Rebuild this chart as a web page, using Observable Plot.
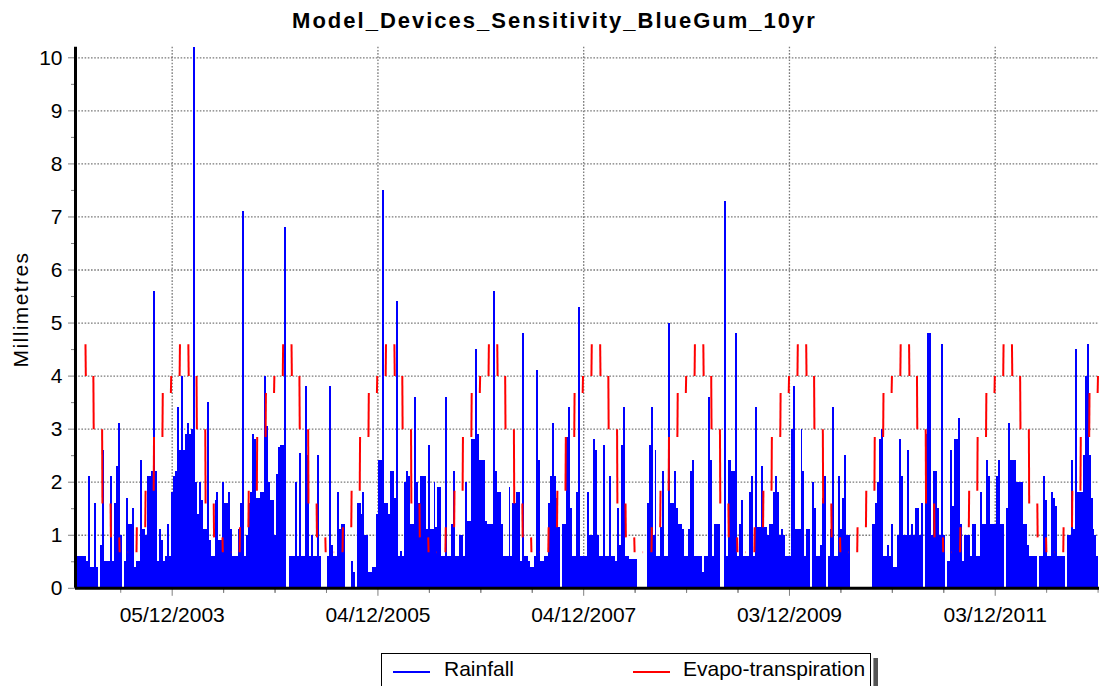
<!DOCTYPE html>
<html>
<head>
<meta charset="utf-8">
<script src="https://cdn.jsdelivr.net/npm/d3@7"></script>
<script src="https://cdn.jsdelivr.net/npm/@observablehq/plot@0.6"></script>
<style>
  html, body { margin: 0; padding: 0; width: 1099px; height: 686px; overflow: hidden; background: #fff; }
  body { position: relative; font-family: "Liberation Sans", Arial, sans-serif; color: #000; }
  #title { position: absolute; left: 0; top: 10px; width: 1109px; text-align: center; font-size: 22px; line-height: 22px; font-weight: bold; letter-spacing: 2px; z-index: 2; }
  #ylabel { position: absolute; left: -80.5px; top: 299px; width: 200px; text-align: center; font-size: 21px; line-height: 21px; letter-spacing: 1.4px; transform: rotate(-90deg); z-index: 2; }
  #chart { position: absolute; left: 0; top: 40px; z-index: 1; }
  #legend { position: absolute; left: 381px; top: 653px; width: 488px; height: 60px; border: 1px solid #000; background: #fff; z-index: 2; }
  #legshadow { position: absolute; left: 873px; top: 658px; width: 4px; height: 40px; background: #555; border-left: 1px solid #999; z-index: 2; }
  .lg-line { position: absolute; height: 2px; z-index: 3; }
  .lg-text { position: absolute; font-size: 21px; line-height: 21px; white-space: nowrap; z-index: 3; }
</style>
</head>
<body>
<div id="chart"></div>
<div id="title">Model_Devices_Sensitivity_BlueGum_10yr</div>
<div id="ylabel">Millimetres</div>
<div id="legend"></div>
<div id="legshadow"></div>
<div class="lg-line" style="left:393px; top:671px; width:37px; background:#0000ff;"></div>
<div class="lg-text" style="left:444px; top:658px;">Rainfall</div>
<div class="lg-line" style="left:633px; top:671px; width:37px; background:#ff0000;"></div>
<div class="lg-text" style="left:683px; top:658px;">Evapo-transpiration</div>
<script>
// ---- Data ----
// Rainfall: peak daily value (mm) within each 7-day period, starting 1 Jan 2003
const rainStart = "2003-01-01";
const rainfallWeekly = [
  0.6,0.6,0.6,0.6,0.6,0.5,2.1,0.4,0.4,1.6, 0.4,0,0.8,2.6,0.5,0.5,0.5,2.1,0.5,1.6,
  2.3,3.1,1.0,0,0.5,1.7,1.2,1.2,1.5,0.4, 0.5,0.5,2.4,1.1,1.1,1.0,2.1,2.1,2.2,5.6,
  2.2,0.5,1.1,0.9,0.5,0.6,1.2,0.6,1.8,2.1, 2.2,3.4,2.6,4.0,2.6,2.9,3.1,2.9,3.0,10.2,
  2.0,1.4,2.0,1.65,1.1,1.1,3.5,0.9,0.6,0.6, 1.65,1.8,0.9,0.9,2.0,1.6,1.6,1.8,1.1,0.6,
  0.6,0.6,1.1,1.6,7.1,0.6,1.0,1.6,1.8,2.9, 2.8,1.7,1.7,1.8,1.8,4.0,3.05,2.0,1.65,1.65,
  1.0,2.15,2.65,2.7,2.7,6.8,0,0,0.6,0.6, 0.6,2.0,0.6,2.55,0.6,0.6,3.8,2.5,0.6,1.0,
  0.6,0.6,2.5,0.6,0,0,0,0.6,3.8,0.8, 0.6,0.6,1.8,1.1,1.2,1.2,0,0,0,0.5,
  0.3,0,1.6,1.6,1.4,1.8,1.0,1.0,0.3,0.3, 0.4,0.4,1.4,2.4,2.4,7.5,1.6,1.6,1.4,2.2,
  2.2,1.7,5.4,0.6,0.7,0.6,2.0,2.2,2.1,1.2, 1.2,3.6,2.0,1.6,2.1,2.1,2.1,1.1,2.7,1.1,
  1.1,2.0,1.15,1.9,1.9,0.6,0.6,3.6,0.6,0.6, 1.2,2.2,0.6,0.6,1.0,1.0,0.6,2.0,1.25,1.25,
  2.8,2.8,4.5,2.9,2.4,2.4,2.4,1.25,1.2,1.2, 1.2,5.6,2.2,1.8,1.8,1.2,0.6,0.6,0.6,1.9,
  0.6,1.6,1.6,1.8,1.8,0.5,4.8,0.6,0.6,0.5, 0.4,0.4,0.6,4.1,2.4,0.5,0.5,0.6,0.6,1.6,
  2.1,3.1,2.1,1.7,1.15,0,1.2,1.2,2.85,3.4, 1.5,0.6,0.6,1.8,5.3,0.6,0.6,0.6,0.6,1.8,
  1.0,1.0,2.8,2.6,1.0,0.6,0.6,2.7,0.6,0.6, 2.1,0.6,0.6,0.5,1.5,0.8,2.7,3.4,0.6,0.6,
  0.55,0.55,0.55,0.55,0,0,0,0,0,1.6, 2.7,3.4,1.0,2.6,0.6,0.6,1.15,2.2,0.6,0.6,
  5.0,1.6,1.6,2.2,1.5,1.2,1.2,1.1,0.6,0.6, 1.1,2.2,2.4,0.6,0.6,0.6,0.6,0.3,0.6,0.6,
  3.6,2.4,0.6,1.2,1.2,1.2,0,0,7.3,0.6, 2.4,2.4,2.2,2.2,4.8,0.6,1.2,1.65,0.6,0.6,
  0.6,1.8,2.1,0.6,3.4,1.15,1.15,2.3,1.15,1.15, 1.0,1.2,1.2,1.8,2.1,1.8,1.0,1.1,1.0,0.6,
  0.6,0.6,3.0,3.8,1.1,1.1,1.1,3.0,2.2,0.6, 1.1,1.1,0,2.0,1.5,0.6,0.6,0.8,1.7,2.1,
  0,0.6,1.1,3.4,0.6,0.6,2.1,1.1,1.7,2.5, 1.0,1.0,0,0,0,0,0,0,0,0,
  0,0,0,1.2,1.2,1.6,2.0,2.8,3.0,0.6, 0.6,0.8,0.6,1.2,0.4,0.4,1.0,2.8,2.1,1.0,
  1.0,2.6,1.0,1.2,1.0,1.5,1.5,1.0,1.6,0, 2.9,4.8,4.8,1.0,2.2,2.2,1.5,1.0,4.6,1.0,
  0,0.5,0.5,2.6,1.55,2.8,2.8,3.2,1.2,0.5, 1.0,1.0,1.0,0.6,1.2,1.2,0.6,0.6,1.8,1.2,
  1.2,2.4,2.1,1.2,1.2,1.2,2.1,2.4,1.2,1.2, 0,1.5,3.1,2.4,2.4,2.4,2.0,2.0,2.0,2.0,
  1.2,1.2,0.8,0.6,0.6,0.6,0.6,0,0.6,0.6, 2.1,1.65,0.6,0.6,1.8,1.7,1.55,0.6,0.6,0.6,
  0.6,0,1.0,1.0,2.4,1.1,4.5,1.8,1.8,1.8, 2.5,4.0,4.6,2.5,1.7,1.1,1.0,0.6
];

// Evapo-transpiration: monthly values (mm/day), Jan..Dec for each year 2003-2012
const etYears = [2003, 2004, 2005, 2006, 2007, 2008, 2009, 2010, 2011, 2012];
const etMonthly = [
  [4.6, 4.0, 3.0, 1.6, 0.96, 0.68, 0.68, 1.15, 1.84, 2.85, 3.68, 4.0],
  [4.6, 4.0, 3.0, 1.6, 0.96, 0.68, 0.68, 1.15, 1.84, 2.85, 3.68, 4.0],
  [4.6, 4.0, 3.0, 1.6, 0.96, 0.68, 0.68, 1.15, 1.84, 2.85, 3.68, 4.0],
  [4.6, 4.0, 3.0, 1.6, 0.96, 0.68, 0.68, 1.15, 1.84, 2.85, 3.68, 4.0],
  [4.6, 4.0, 3.0, 1.6, 0.96, 0.68, 0.68, 1.15, 1.84, 2.85, 3.68, 4.0],
  [4.6, 4.0, 3.0, 1.6, 0.96, 0.68, 0.68, 1.15, 1.84, 2.85, 3.68, 4.0],
  [4.6, 4.0, 3.0, 1.6, 0.96, 0.68, 0.68, 1.15, 1.84, 2.85, 3.68, 4.0],
  [4.6, 4.0, 3.0, 1.6, 0.96, 0.68, 0.68, 1.15, 1.84, 2.85, 3.68, 4.0],
  [4.6, 4.0, 3.0, 1.6, 0.96, 0.68, 0.68, 1.15, 1.84, 2.85, 3.68, 4.0],
  [4.6, 4.0, 3.0, 1.6, 0.96, 0.68, 0.68, 1.15, 1.84, 2.85, 3.68, 4.0]
];

// Axis tick labels
const xTickLabels = ["05/12/2003", "04/12/2005", "04/12/2007", "03/12/2009", "03/12/2011"];
const yTickValues = [0, 1, 2, 3, 4, 5, 6, 7, 8, 9, 10];

// ---- Build tables ----
const DAY = 864e5;
const parseDMY = d3.utcParse("%d/%m/%Y");
const fmtDMY = d3.utcFormat("%d/%m/%Y");
const t0 = d3.utcParse("%Y-%m-%d")(rainStart).getTime();

const rainRows = rainfallWeekly.map((v, i) => ({
  x1: new Date(t0 + i * 7 * DAY),
  x2: new Date(t0 + (i + 1) * 7 * DAY),
  v
}));

const etSeries = [];
etYears.forEach((yr, yi) => etMonthly[yi].forEach((v, m) => etSeries.push({date: new Date(Date.UTC(yr, m, 1)), v})));
const etLinks = [];
for (let k = 1; k < etSeries.length; k++) {
  const b = etSeries[k].date.getTime();
  etLinks.push({x1: new Date(b - 0.6 * DAY), y1: etSeries[k - 1].v, x2: new Date(b + 0.6 * DAY), y2: etSeries[k].v});
}

const xMajor = xTickLabels.map(parseDMY);
const xMinor = [];
xMajor.forEach(d => { for (const k of [-3, -2, -1, 1, 2, 3]) xMinor.push(new Date(d.getTime() + k * 182.5 * DAY)); });
const yMinor = yTickValues.slice(0, -1).map(v => v + 0.5);

const xDomain = [new Date(Date.UTC(2002, 11, 27)), new Date(Date.UTC(2012, 11, 7))];
const xMinorIn = xMinor.filter(d => d >= xDomain[0] && d <= xDomain[1]);

const dots = {stroke: "#7a7a7a", strokeWidth: 1.3, strokeDasharray: "1.6,1.6"};

const chart = Plot.plot({
  width: 1099,
  height: 600,
  marginLeft: 75,
  marginRight: 0,
  marginTop: 6.7,
  marginBottom: 52.2,
  x: {type: "utc", domain: xDomain, axis: null},
  y: {domain: [0, 10.2], axis: null},
  style: {fontFamily: "'Liberation Sans', Arial, sans-serif", fontSize: "21px", background: "white", color: "black", overflow: "visible"},
  marks: [
    Plot.ruleY(yTickValues.slice(1), dots),
    Plot.ruleX(xMajor, dots),
    Plot.rectY(rainRows, {x1: "x1", x2: "x2", y: "v", fill: "#0000ff", shapeRendering: "crispEdges"}),
    Plot.link(etLinks, {x1: "x1", y1: "y1", x2: "x2", y2: "y2", stroke: "#ff0000", strokeWidth: 2}),
    Plot.axisY({ticks: yTickValues, tickSize: 7, tickPadding: 6, stroke: "#808080", fill: "black", fontSize: 21, tickFormat: d => String(d), label: null}),
    Plot.axisY({ticks: yMinor, tickSize: 4, stroke: "#808080", tickFormat: () => "", label: null}),
    Plot.axisX({ticks: xMajor, tickSize: 8, tickPadding: 11, stroke: "#808080", fill: "black", fontSize: 21, tickFormat: fmtDMY, label: null}),
    Plot.axisX({ticks: xMinorIn, tickSize: 5, stroke: "#808080", tickFormat: () => "", label: null}),
    Plot.ruleX([xDomain[0]], {stroke: "black", strokeWidth: 3}),
    Plot.ruleY([0], {stroke: "black", strokeWidth: 3})
  ]
});
document.getElementById("chart").appendChild(chart);
</script>
</body>
</html>
